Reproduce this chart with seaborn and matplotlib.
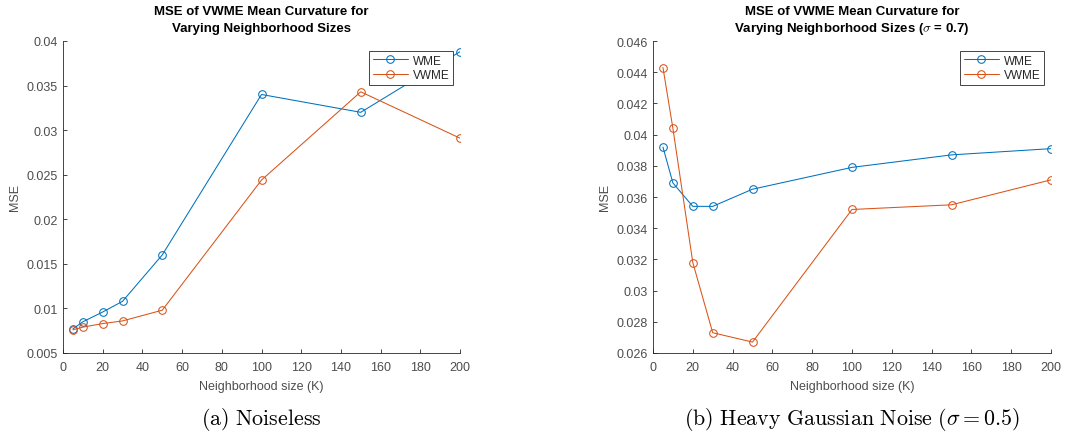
import numpy as np
import pandas as pd
import matplotlib
matplotlib.use("Agg")
import matplotlib.pyplot as plt
import seaborn as sns

K = [5, 10, 20, 30, 50, 100, 150, 200]
noiseless_wme = [0.0077, 0.0085, 0.0096, 0.0108, 0.0160, 0.0340, 0.0320, 0.0388]
noiseless_vwme = [0.0076, 0.0079, 0.0083, 0.0086, 0.0098, 0.0244, 0.0343, 0.0291]
noisy_wme = [0.0392, 0.0369, 0.0354, 0.0354, 0.0365, 0.0379, 0.0387, 0.0391]
noisy_vwme = [0.0443, 0.0404, 0.0318, 0.0273, 0.0267, 0.0352, 0.0355, 0.0371]

series_names = ["WME", "VWME"]
colors = ["#0072BD", "#D95319"]
title_lines = [["MSE of VWME Mean Curvature for", "Varying Neighborhood Sizes"],
               ["MSE of VWME Mean Curvature for", "Varying Neighborhood Sizes ($\\sigma$ = 0.7)"]]
captions = [r"$\mathrm{(a)\ Noiseless}$",
            r"$\mathrm{(b)\ Heavy\ Gaussian\ Noise\ (}\sigma = 0.5\mathrm{)}$"]
ylims = [(0.005, 0.04), (0.026, 0.046)]
yticks = [[0.005, 0.01, 0.015, 0.02, 0.025, 0.03, 0.035, 0.04],
          [0.026, 0.028, 0.03, 0.032, 0.034, 0.036, 0.038, 0.04, 0.042, 0.044, 0.046]]
ytick_labels = [["0.005", "0.01", "0.015", "0.02", "0.025", "0.03", "0.035", "0.04"],
                ["0.026", "0.028", "0.03", "0.032", "0.034", "0.036", "0.038", "0.04", "0.042", "0.044", "0.046"]]
xticks = [0, 20, 40, 60, 80, 100, 120, 140, 160, 180, 200]

sns.set_style("ticks")
plt.rcParams['font.family'] = ['Liberation Sans', 'DejaVu Sans']
plt.rcParams['mathtext.fontset'] = 'cm'

W, H = 1078, 439
fig = plt.figure(figsize=(W / 100, H / 100), dpi=100)

axes_px = [(63, 460), (653, 1051)]
top_px, bot_px = 42, 354
legend_px = [(369, 52), (960, 52)]

data_sets = [(noiseless_wme, noiseless_vwme), (noisy_wme, noisy_vwme)]

for i in range(2):
    l, r = axes_px[i]
    ax = fig.add_axes([l / W, 1 - bot_px / H, (r - l) / W, (bot_px - top_px) / H])
    for name, vals, c in zip(series_names, data_sets[i], colors):
        df = pd.DataFrame({"K": K, "MSE": vals})
        sns.lineplot(data=df, x="K", y="MSE", ax=ax, color=c, lw=0.75,
                     marker="o", markersize=5.5, markerfacecolor="none",
                     markeredgecolor=c, markeredgewidth=0.75, label=name)
    ax.set_xlim(0, 200)
    ax.set_ylim(*ylims[i])
    ax.set_xticks(xticks)
    ax.set_yticks(yticks[i])
    ax.set_yticklabels(ytick_labels[i])
    ax.tick_params(direction="in", length=3, width=0.6, labelsize=9,
                   colors="#262626", labelcolor="#4d4d4d")
    ax.tick_params(axis="x", pad=6)
    ax.tick_params(axis="y", pad=4)
    for s in ["top", "right"]:
        ax.spines[s].set_visible(False)
    for s in ["left", "bottom"]:
        ax.spines[s].set_color("#262626")
        ax.spines[s].set_linewidth(0.6)
    ax.set_xlabel("Neighborhood size (K)", fontsize=9, color="#4d4d4d", labelpad=5)
    ax.set_ylabel("MSE", fontsize=9, color="#4d4d4d", labelpad=4)
    cx = ((l + r) / 2) / W
    for line, ypx in zip(title_lines[i], [12, 29]):
        fig.text(cx, 1 - ypx / H, line, ha="center", va="center",
                 fontsize=9.5, fontweight="bold", color="black")
    lx, ly = legend_px[i]
    leg = ax.legend(loc="upper left", bbox_to_anchor=((lx - l) / (r - l), 1 - (ly - top_px) / (bot_px - top_px)),
                    fontsize=8.5, frameon=True, fancybox=False, framealpha=1,
                    edgecolor="#262626", borderpad=0.3, handlelength=3.0,
                    handletextpad=0.4, labelspacing=0.25, borderaxespad=0)
    leg.get_frame().set_linewidth(0.6)
    fig.text(cx, 1 - 420 / H, captions[i], ha="center", va="center",
             fontsize=15.8, color="black")

fig.savefig("out.png", dpi=100)
